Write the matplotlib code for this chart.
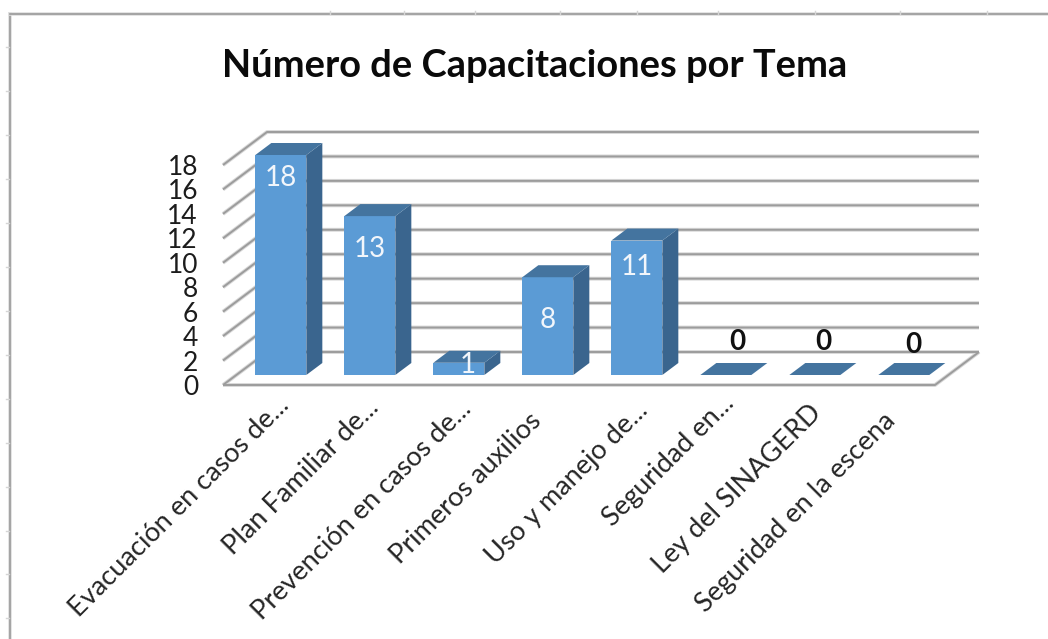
import matplotlib
matplotlib.use("Agg")
import matplotlib.pyplot as plt
from matplotlib.lines import Line2D
from matplotlib.transforms import ScaledTranslation

categories = ["Evacuación en casos de...", "Plan Familiar de...", "Prevención en casos de...",
              "Primeros auxilios", "Uso y manejo de...", "Seguridad en...",
              "Ley del SINAGERD", "Seguridad en la escena"]
values = [18, 13, 1, 8, 11, 0, 0, 0]
y_ticks = list(range(0, 19, 2))
title = "Número de Capacitaciones por Tema"

# data-label nudges from the bar (pixels: right, up from bar top)
label_dx = [0, 0, 9, 0, 0, 12, 9, 10]
label_dy = [-23, -33, -2, -43, -26, 33, 33, 30]
# category-label nudges (pixels: right, up)
cat_dx = [9, 9, 13, -6, 12, 9, 7, -8]
cat_dy = [-8, -10, -11, -23, -13, -5, -15, -23]

W, H = 1048, 639
plt.rcParams['font.family'] = ['Lato', 'DejaVu Sans']
fig = plt.figure(figsize=(W / 100, H / 100), dpi=100, facecolor='white')

# front plane of the chart box, in pixels of the picture
L, R, T, B = 223, 935, 165, 385
ax = fig.add_axes([L / W, 1 - B / H, (R - L) / W, (B - T) / H])
ax.set_xlim(-0.5, len(categories) - 0.5)
ax.set_ylim(0, 18)
ax.patch.set_visible(False)
for s in ax.spines.values():
    s.set_visible(False)

px_x = (len(categories)) / (R - L)   # data units per pixel
px_y = 18 / (B - T)
depth_x, depth_y = 44 * px_x, 33 * px_y   # full depth of the box
bar_front, bar_back = 10 / 33, 22 / 33    # where the bars sit in the depth
bar_w = 51 * px_x

front_c, side_c, top_c = '#5B9BD5', '#3A658E', '#44749F'


def wall_line(xs, ys):
    ax.plot(xs, ys, color='#d8d8d8', lw=2.8, clip_on=False, zorder=1, solid_capstyle='butt')
    ax.plot(xs, ys, color='#9c9c9c', lw=1.4, clip_on=False, zorder=1.1, solid_capstyle='butt')


x0, x1 = -0.5, len(categories) - 0.5
for v in y_ticks:
    wall_line([x0, x0 + depth_x, x1 + depth_x], [v, v + depth_y, v + depth_y])
wall_line([x0, x1, x1 + depth_x], [0, 0, depth_y])

# 3D columns
fx = bar_front * depth_x
fy = bar_front * depth_y
bx = (bar_back - bar_front) * depth_x
by = (bar_back - bar_front) * depth_y
for i, v in enumerate(values):
    xl = i + fx - bar_w / 2
    xr = xl + bar_w
    ax.bar(i + fx, v, width=bar_w, bottom=fy, color=front_c, zorder=3 + i * 0.01, clip_on=False)
    ax.fill([xr, xr + bx, xr + bx, xr], [fy, fy + by, fy + v + by, fy + v],
            color=side_c, lw=0, zorder=3 + i * 0.01, clip_on=False)
    ax.fill([xl, xr, xr + bx, xl + bx], [fy + v, fy + v, fy + v + by, fy + v + by],
            color=top_c, lw=0, zorder=3 + i * 0.01, clip_on=False)
    inside = v > 0
    ax.text(i + fx + label_dx[i] * px_x, fy + v + label_dy[i] * px_y, str(v),
            ha='center', va='center', fontsize=20,
            color='#f2f6fb' if inside else '#111111',
            fontweight='normal' if inside else 'bold', zorder=5)

ax.set_yticks(y_ticks)
ax.set_yticklabels([str(v) for v in y_ticks], fontsize=19, color='#1c1c1c')
ax.tick_params(axis='y', length=0, pad=18)

ax.set_xticks(range(len(categories)))
ax.set_xticklabels(categories, rotation=45, ha='right', rotation_mode='anchor',
                   fontsize=19.5, color='#262626')
ax.tick_params(axis='x', length=0, pad=0)
for lab, dx, dy in zip(ax.get_xticklabels(), cat_dx, cat_dy):
    lab.set_transform(lab.get_transform() + ScaledTranslation(dx / 100, dy / 100, fig.dpi_scale_trans))

fig.text(535 / W, 1 - 66 / H, title, ha='center', va='center', fontsize=27.4,
         fontweight='bold', color='#0a0a0a')

# worksheet chart frame
for xs, ys in [((9.5, 9.5), (14, H)), ((9.5, W), (14, 14))]:
    fig.add_artist(Line2D([x / W for x in xs], [1 - y / H for y in ys],
                          color='#dedede', lw=2.6, transform=fig.transFigure))
    fig.add_artist(Line2D([x / W for x in xs], [1 - y / H for y in ys],
                          color='#9a9a9a', lw=1.2, transform=fig.transFigure))
for y in (47, 91, 135, 179, 223, 267, 311, 355, 399, 443, 487, 531, 574, 618):
    fig.add_artist(Line2D([6 / W, 9 / W], [1 - y / H] * 2, color='#d5d5d5', lw=1))
for x in (330, 404, 475, 560, 637, 718, 815, 900, 987):
    fig.add_artist(Line2D([x / W] * 2, [1 - 11 / H, 1 - 14 / H], color='#d5d5d5', lw=1))

fig.savefig('out.png', dpi=100, facecolor='white')
